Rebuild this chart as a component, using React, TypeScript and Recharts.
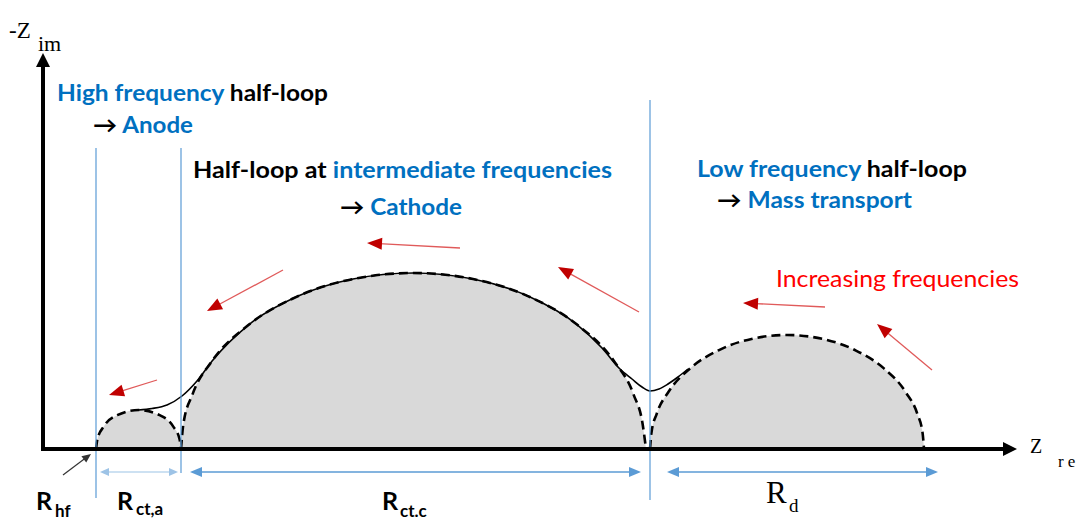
import { ComposedChart, Area, Line, XAxis, YAxis, ReferenceLine } from "recharts";

// units: 1 unit = 1px, origin at the axes corner
const smallLoopX = [54, 55.5, 61.7, 75.25, 96.5, 117.75, 131.3, 137.5, 139];
const smallLoopY = [0, 10.1, 22.4, 33.8, 39, 33.8, 22.4, 10.1, 0];

const bigLoopX = [139, 141.3, 150.4, 170.1, 207, 255, 311, 371, 431, 487, 535, 571.9, 591.6, 600.7, 604];
const bigLoopY = [0, 24.5, 54.4, 88, 124.4, 152.4, 170, 176, 170, 152.4, 124.4, 88, 54.4, 24.5, 0];

const lowLoopX = [608, 609.4, 614.7, 626.4, 648.1, 676.5, 709.5, 745, 780.5, 813.5, 841.9, 863.6, 875.3, 880.6, 882];
const lowLoopY = [0, 15.9, 35.2, 57, 80.6, 98.7, 110.1, 114, 110.1, 98.7, 80.6, 57, 35.2, 15.9, 0];

const envelopeX = [96.5, 110, 125, 140, 155, 170.1, 207, 255, 311, 371, 431, 487, 535, 560, 578, 590, 600, 608, 617, 626, 636, 646];
const envelopeY = [39, 40.5, 44, 53, 68, 88, 124.4, 152.4, 170, 176, 170, 152.4, 124.4, 101, 80, 70, 62, 58, 60, 65, 72, 80];

// boundaries between the half-loops
const boundaryX = [54, 139, 608];
const boundaryTop = [301, 301, 349];
const boundaryBottom = [-49, -24, -51];

// resistance spans under the axis
const spanFrom = [58, 148, 625];
const spanTo = [136, 599, 896];
const spanY = -23;

// "increasing frequencies" arrows: tail -> head
const freqArrows = [
  [115, 69, 67, 54],
  [241, 179, 165, 138],
  [418, 201, 325, 206],
  [597, 137, 516, 182],
  [783, 142, 701, 146],
  [890, 79, 835, 125],
];

const rows = new Map<number, any>();
function put(key: string, xs: number[], ys: number[]) {
  xs.forEach((x, i) => {
    const r = rows.get(x) ?? { x };
    r[key] = ys[i];
    rows.set(x, r);
  });
}
put("small", smallLoopX, smallLoopY);
put("big", bigLoopX, bigLoopY);
put("low", lowLoopX, lowLoopY);
put("env", envelopeX, envelopeY);
const table = [...rows.values()].sort((a, b) => a.x - b.x);

function arrowShape(color: string, width: number, head: number, hw: number, both = false, headColor?: string) {
  return (p: any) => {
    const { x1, y1, x2, y2 } = p;
    const dx = x2 - x1, dy = y2 - y1;
    const L = Math.hypot(dx, dy) || 1;
    const ux = dx / L, uy = dy / L;
    const tri = (tx: number, ty: number, sx: number, sy: number) => {
      const bx = tx - sx * head, by = ty - sy * head;
      return `${tx},${ty} ${bx - sy * hw},${by + sx * hw} ${bx + sy * hw},${by - sx * hw}`;
    };
    const sx = both ? x1 + ux * head : x1;
    const sy = both ? y1 + uy * head : y1;
    return (
      <g>
        <line x1={sx} y1={sy} x2={x2 - ux * head * 0.8} y2={y2 - uy * head * 0.8} stroke={color} strokeWidth={width} />
        <polygon points={tri(x2, y2, ux, uy)} fill={headColor ?? color} />
        {both && <polygon points={tri(x1, y1, -ux, -uy)} fill={headColor ?? color} />}
      </g>
    );
  };
}

const plainLine = (color: string, width: number) => (p: any) => (
  <line x1={p.x1} y1={p.y1} x2={p.x2} y2={p.y2} stroke={color} strokeWidth={width} />
);

const BLUE = "#0070C0";
const LINE_BLUE = "#5B9BD5";
const sans = "Lato, 'Open Sans', sans-serif";
const serif = "'Liberation Serif', 'DejaVu Serif', serif";

export default function App() {
  return (
    <div style={{ position: "absolute", left: 0, top: 0, width: 1084, height: 522, background: "#fff" }}>
      <ComposedChart width={1084} height={522} data={table} margin={{ top: 0, right: 0, bottom: 0, left: 0 }}>
        <XAxis dataKey="x" type="number" domain={[-42, 1042]} hide allowDataOverflow />
        <YAxis type="number" domain={[-73, 449]} hide allowDataOverflow />

        <Area dataKey="big" type="monotone" baseValue={0} connectNulls fill="#D9D9D9" fillOpacity={1}
          stroke="#000" strokeWidth={2.6} strokeDasharray="9 5" dot={false} activeDot={false} isAnimationActive={false} />
        <Area dataKey="small" type="monotone" baseValue={0} connectNulls fill="#D9D9D9" fillOpacity={1}
          stroke="#000" strokeWidth={2.6} strokeDasharray="9 5" dot={false} activeDot={false} isAnimationActive={false} />
        <Area dataKey="low" type="monotone" baseValue={0} connectNulls fill="#D9D9D9" fillOpacity={1}
          stroke="#000" strokeWidth={2.6} strokeDasharray="9 5" dot={false} activeDot={false} isAnimationActive={false} />
        <Line dataKey="env" type="monotone" connectNulls stroke="#000" strokeWidth={1.6}
          dot={false} activeDot={false} isAnimationActive={false} />

        {boundaryX.map((x, i) => (
          <ReferenceLine key={`b${i}`} ifOverflow="visible"
            segment={[{ x, y: boundaryBottom[i] }, { x, y: boundaryTop[i] }]}
            shape={plainLine(LINE_BLUE, 1.2)} />
        ))}

        {/* axes */}
        <ReferenceLine ifOverflow="visible" segment={[{ x: -1, y: 0 }, { x: 975, y: 0 }]} shape={arrowShape("#000", 4, 14, 7)} />
        <ReferenceLine ifOverflow="visible" segment={[{ x: 1, y: -2 }, { x: 1, y: 396 }]} shape={arrowShape("#000", 4, 14, 7)} />

        {spanFrom.map((x, i) => (
          <ReferenceLine key={`s${i}`} ifOverflow="visible"
            segment={[{ x, y: spanY }, { x: spanTo[i], y: spanY }]}
            shape={i === 0 ? arrowShape("#BDD7EE", 1.5, 9, 4, true, "#9DC3E6") : arrowShape(LINE_BLUE, 1.5, 12, 5, true)} />
        ))}

        {freqArrows.map((a, i) => (
          <ReferenceLine key={`f${i}`} ifOverflow="visible"
            segment={[{ x: a[0], y: a[1] }, { x: a[2], y: a[3] }]}
            shape={arrowShape("#E05A5A", 1.3, 15, 6, false, "#C00000")} />
        ))}

        <ReferenceLine ifOverflow="visible" segment={[{ x: 21, y: -26 }, { x: 49, y: -5 }]} shape={arrowShape("#333", 1.2, 9, 4)} />
      </ComposedChart>

      <svg width={1084} height={522} style={{ position: "absolute", left: 0, top: 0, pointerEvents: "none" }}>
        <g fontFamily={serif} fill="#000">
          <text x={9} y={38} fontSize={23}>-Z</text>
          <text x={38} y={51} fontSize={22}>im</text>
          <text x={1030} y={453} fontSize={20}>Z</text>
          <text x={1058} y={467} fontSize={17} letterSpacing={4}>re</text>
          <text x={766} y={503} fontSize={31}>R</text>
          <text x={789} y={512} fontSize={19}>d</text>
        </g>
        <g fontFamily={sans} fontWeight={700} fontSize={22.5}>
          <text x={57} y={101} textLength={271} lengthAdjust="spacingAndGlyphs">
            <tspan fill={BLUE}>High frequency</tspan><tspan fill="#000"> half-loop</tspan>
          </text>
          <text x={93} y={133} textLength={100} lengthAdjust="spacingAndGlyphs">
            <tspan fill="#000">→ </tspan><tspan fill={BLUE}>Anode</tspan>
          </text>
          <text x={193} y={178} textLength={419} lengthAdjust="spacingAndGlyphs">
            <tspan fill="#000">Half-loop at </tspan><tspan fill={BLUE}>intermediate frequencies</tspan>
          </text>
          <text x={340} y={215} textLength={122} lengthAdjust="spacingAndGlyphs">
            <tspan fill="#000">→ </tspan><tspan fill={BLUE}>Cathode</tspan>
          </text>
          <text x={697} y={177} textLength={270} lengthAdjust="spacingAndGlyphs">
            <tspan fill={BLUE}>Low frequency</tspan><tspan fill="#000"> half-loop</tspan>
          </text>
          <text x={717} y={208} textLength={195} lengthAdjust="spacingAndGlyphs">
            <tspan fill="#000">→ </tspan><tspan fill={BLUE}>Mass transport</tspan>
          </text>
        </g>
        <text x={776} y={287} fontFamily={sans} fontSize={23} fill="#FF0000" textLength={243} lengthAdjust="spacingAndGlyphs">
          Increasing frequencies
        </text>
        <g fontFamily={sans} fontWeight={700} fill="#000">
          <text x={36} y={510} fontSize={25}>R</text>
          <text x={55} y={517} fontSize={17}>hf</text>
          <text x={117} y={510} fontSize={25}>R</text>
          <text x={136} y={515} fontSize={17}>ct,a</text>
          <text x={382} y={510} fontSize={25}>R</text>
          <text x={400} y={517} fontSize={17}>ct.c</text>
        </g>
      </svg>
    </div>
  );
}
